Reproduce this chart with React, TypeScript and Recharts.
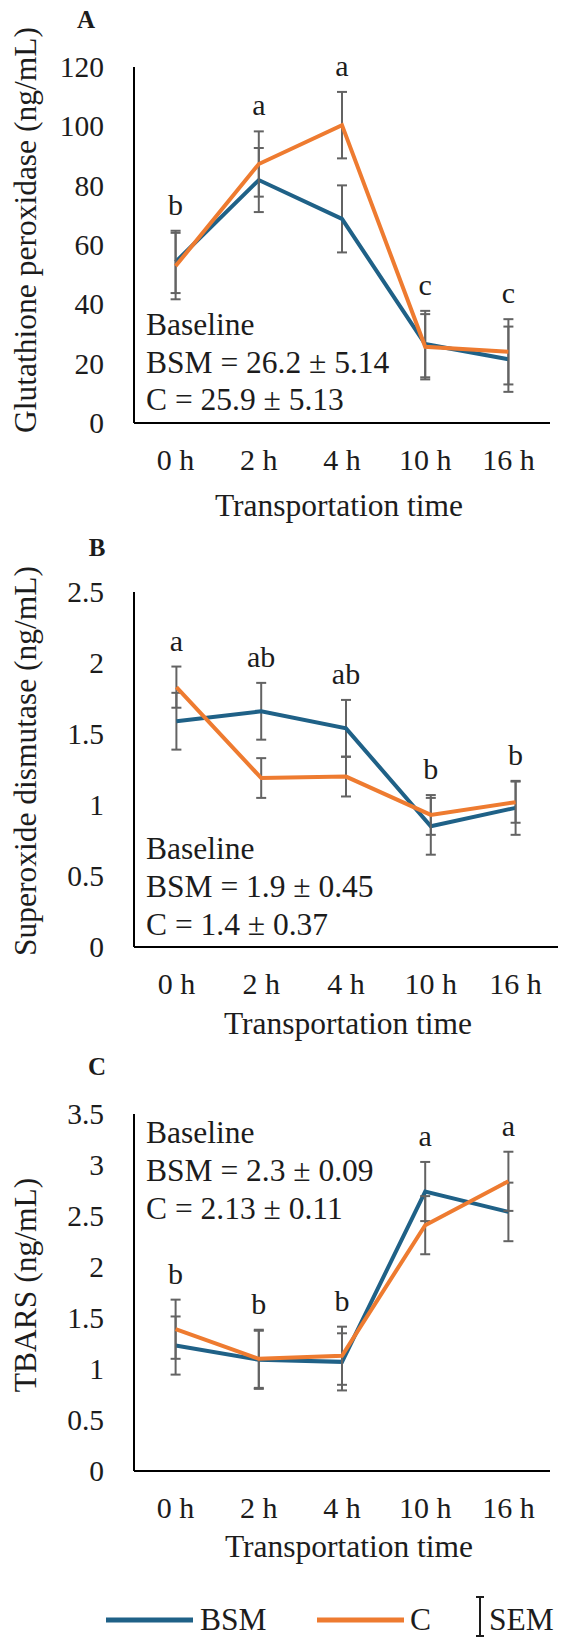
import React from 'react';
import { LineChart, Line, XAxis, YAxis, ErrorBar, LabelList } from 'recharts';

const times = ['0 h', '2 h', '4 h', '10 h', '16 h'];
const seriesNames = ['BSM', 'C'];

// A - glutathione peroxidase
const gpxBsm = [54.3, 81.9, 68.8, 26.6, 21.5];
const gpxC = [52.9, 87.3, 100.4, 25.7, 24.0];
const gpxBsmSem = [10.5, 10.8, 11.3, 11.2, 11.0];
const gpxCSem = [11.2, 11.0, 11.2, 11.0, 11.0];
const gpxLetters = ['b', 'a', 'a', 'c', 'c'];
const gpxTicks = [0, 20, 40, 60, 80, 100, 120];
const gpxBaseline = ['Baseline', 'BSM = 26.2 ± 5.14', 'C = 25.9 ± 5.13'];

// B - superoxide dismutase
const sodBsm = [1.59, 1.66, 1.54, 0.85, 0.98];
const sodC = [1.83, 1.19, 1.2, 0.93, 1.02];
const sodBsmSem = [0.2, 0.2, 0.2, 0.2, 0.19];
const sodCSem = [0.145, 0.14, 0.14, 0.14, 0.145];
const sodLetters = ['a', 'ab', 'ab', 'b', 'b'];
const sodTicks = [0, 0.5, 1, 1.5, 2, 2.5];
const sodBaseline = ['Baseline', 'BSM = 1.9 ± 0.45', 'C = 1.4 ± 0.37'];

// C - TBARS
const tbarsBsm = [1.23, 1.09, 1.07, 2.74, 2.54];
const tbarsC = [1.39, 1.1, 1.13, 2.41, 2.84];
const tbarsBsmSem = [0.285, 0.285, 0.28, 0.29, 0.287];
const tbarsCSem = [0.29, 0.285, 0.285, 0.285, 0.29];
const tbarsLetters = ['b', 'b', 'b', 'a', 'a'];
const tbarsTicks = [0, 0.5, 1, 1.5, 2, 2.5, 3, 3.5];
const tbarsBaseline = ['Baseline', 'BSM = 2.3 ± 0.09', 'C = 2.13 ± 0.11'];

const FONT = 'Liberation Serif, serif';
const BLUE = '#1F6187';
const ORANGE = '#EE7B30';
const SEM_GREY = '#636363';
const TEXT = '#1c1c1c';
const LABEL_SIZE = 31.5;

const buildRows = (bsm, c, bsmSem, cSem, letters) =>
  times.map((t, i) => ({
    time: t,
    bsm: bsm[i],
    c: c[i],
    bsmSem: bsmSem[i],
    cSem: cSem[i],
    top: Math.max(bsm[i] + bsmSem[i], c[i] + cSem[i]),
    letter: letters[i],
  }));

const XTick = ({ x, y, payload }) => (
  <text x={x} y={y + 47} textAnchor="middle" fontFamily={FONT} fontSize={30} fill={TEXT}>
    {payload.value}
  </text>
);

const YTick = ({ x, y, payload }) => (
  <text x={x - 30} y={y + 10} textAnchor="end" fontFamily={FONT} fontSize={29.5} fill={TEXT}>
    {payload.value}
  </text>
);

const Letter = ({ x, y, value }) => (
  <text x={x} y={y - 16} textAnchor="middle" fontFamily={FONT} fontSize={30} fill={TEXT}>
    {value}
  </text>
);

const Panel = ({ rows, ticks, top, height, margin }) => {
  const plotW = 566 - margin.left - 100 - margin.right;
  const pad = plotW / 10;
  return (
    <div style={{ position: 'absolute', left: 0, top }}>
      <LineChart width={566} height={height} data={rows} margin={margin}>
        <XAxis
          dataKey="time"
          height={60}
          padding={{ left: pad, right: pad }}
          axisLine={{ stroke: '#000', strokeWidth: 2 }}
          tickLine={false}
          tickSize={0}
          tickMargin={0}
          tick={<XTick />}
          interval={0}
        />
        <YAxis
          width={100}
          domain={[0, ticks[ticks.length - 1]]}
          ticks={ticks}
          axisLine={{ stroke: '#000', strokeWidth: 2 }}
          tickLine={false}
          tickSize={0}
          tickMargin={0}
          tick={<YTick />}
          interval={0}
        />
        <Line dataKey="bsm" stroke={BLUE} strokeWidth={4} dot={false} activeDot={false} isAnimationActive={false}>
          <ErrorBar dataKey="bsmSem" direction="y" width={5} stroke={SEM_GREY} strokeWidth={2} isAnimationActive={false} />
        </Line>
        <Line dataKey="c" stroke={ORANGE} strokeWidth={4} dot={false} activeDot={false} isAnimationActive={false}>
          <ErrorBar dataKey="cSem" direction="y" width={5} stroke={SEM_GREY} strokeWidth={2} isAnimationActive={false} />
        </Line>
        <Line dataKey="top" stroke="none" dot={false} activeDot={false} legendType="none" isAnimationActive={false}>
          <LabelList dataKey="letter" content={<Letter />} />
        </Line>
      </LineChart>
    </div>
  );
};

const BaselineText = ({ x, ys, lines }) => (
  <>
    {lines.map((l, i) => (
      <text key={i} x={x} y={ys[i]} fontFamily={FONT} fontSize={LABEL_SIZE} fill={TEXT}>
        {l}
      </text>
    ))}
  </>
);

const YLabel = ({ cy, text }) => (
  <text
    x={36}
    y={cy}
    transform={`rotate(-90, 36, ${cy})`}
    textAnchor="middle"
    fontFamily={FONT}
    fontSize={LABEL_SIZE}
    fill={TEXT}
  >
    {text}
  </text>
);

const PanelTitle = ({ x, y, text }) => (
  <text x={x} y={y} textAnchor="middle" fontFamily={FONT} fontSize={25} fontWeight="bold" fill={TEXT}>
    {text}
  </text>
);

const XTitle = ({ x, y }) => (
  <text x={x} y={y} textAnchor="middle" fontFamily={FONT} fontSize={LABEL_SIZE} fill={TEXT}>
    Transportation time
  </text>
);

export default function App() {
  const gpxRows = buildRows(gpxBsm, gpxC, gpxBsmSem, gpxCSem, gpxLetters);
  const sodRows = buildRows(sodBsm, sodC, sodBsmSem, sodCSem, sodLetters);
  const tbarsRows = buildRows(tbarsBsm, tbarsC, tbarsBsmSem, tbarsCSem, tbarsLetters);

  return (
    <div style={{ position: 'absolute', left: 0, top: 0, width: 566, height: 1648, background: '#fff' }}>
      <Panel rows={gpxRows} ticks={gpxTicks} top={0} height={520} margin={{ top: 67, right: 16, bottom: 37, left: 34 }} />
      <Panel rows={sodRows} ticks={sodTicks} top={520} height={540} margin={{ top: 72, right: 8, bottom: 53, left: 34 }} />
      <Panel rows={tbarsRows} ticks={tbarsTicks} top={1060} height={588} margin={{ top: 54, right: 16, bottom: 117, left: 34 }} />

      <svg width={566} height={1648} style={{ position: 'absolute', left: 0, top: 0, pointerEvents: 'none' }}>
        <PanelTitle x={86} y={28} text="A" />
        <PanelTitle x={97} y={556} text="B" />
        <PanelTitle x={97} y={1075} text="C" />

        <YLabel cy={230} text="Glutathione peroxidase (ng/mL)" />
        <YLabel cy={761} text="Superoxide dismutase (ng/mL)" />
        <YLabel cy={1285} text="TBARS (ng/mL)" />

        <BaselineText x={146} ys={[335, 373, 410]} lines={gpxBaseline} />
        <BaselineText x={146} ys={[859, 897, 935]} lines={sodBaseline} />
        <BaselineText x={146} ys={[1143, 1181, 1219]} lines={tbarsBaseline} />

        <XTitle x={339} y={516} />
        <XTitle x={348} y={1034} />
        <XTitle x={349} y={1557} />

        {/* legend */}
        <line x1={106} y1={1620} x2={193} y2={1620} stroke={BLUE} strokeWidth={5} />
        <text x={200} y={1630} fontFamily={FONT} fontSize={LABEL_SIZE} fill={TEXT}>{seriesNames[0]}</text>
        <line x1={317} y1={1620} x2={404} y2={1620} stroke={ORANGE} strokeWidth={5} />
        <text x={410} y={1630} fontFamily={FONT} fontSize={LABEL_SIZE} fill={TEXT}>{seriesNames[1]}</text>
        <line x1={480} y1={1596} x2={480} y2={1637} stroke={TEXT} strokeWidth={2} />
        <line x1={476} y1={1597} x2={484} y2={1597} stroke={TEXT} strokeWidth={2} />
        <line x1={476} y1={1636} x2={484} y2={1636} stroke={TEXT} strokeWidth={2} />
        <text x={489} y={1630} fontFamily={FONT} fontSize={LABEL_SIZE} fill={TEXT}>SEM</text>
      </svg>
    </div>
  );
}
